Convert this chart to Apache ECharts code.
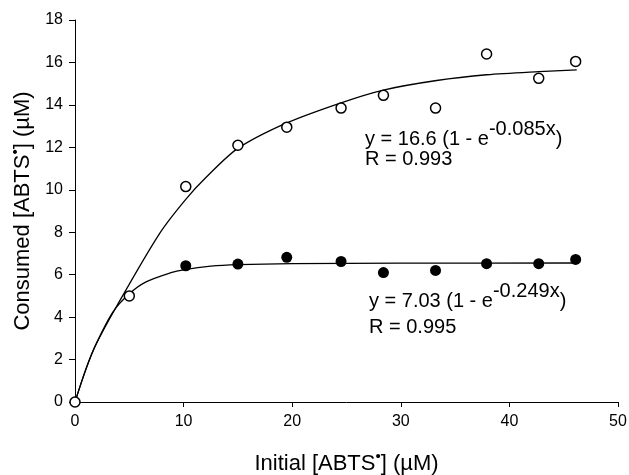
<!DOCTYPE html>
<html lang="en">
<head>
    <meta charset="utf-8"/>
    <title>ABTS consumed</title>
    <script src="https://cdn.jsdelivr.net/npm/echarts@6/dist/echarts.min.js"></script>
</head>
<body style="margin:0;background:#fff;">
<div id="chart" style="width:629px;height:475px;"></div>
<script type="text/javascript">
    var xOpen = [0, 5, 10.2, 15, 19.5, 24.5, 28.4, 33.2, 37.9, 42.7, 46.1];
    var yOpen = [0, 5.0, 10.15, 12.1, 12.95, 13.85, 14.45, 13.85, 16.4, 15.25, 16.05];
    var xFilled = [10.2, 15, 19.5, 24.5, 28.4, 33.2, 37.9, 42.7, 46.1];
    var yFilled = [6.42, 6.5, 6.82, 6.62, 6.1, 6.2, 6.52, 6.52, 6.72];

    // fitted curves
    var fitOpenX = [0, 1.7, 4.1, 7.8, 10.2, 12.1, 15, 19.5, 24.5, 28.4, 33.3, 37.9, 42.7, 46.2];
    var fitOpenY = [0, 2.45, 4.75, 7.95, 9.55, 10.6, 11.95, 13.15, 14.1, 14.7, 15.15, 15.42, 15.57, 15.65];
    var fitFilledX = [0, 1, 2, 3.5, 5, 6.5, 8.75, 10.1, 12.5, 15, 20, 30, 46.2];
    var fitFilledY = [0, 1.55, 2.8, 4.25, 5.1, 5.65, 6.08, 6.24, 6.4, 6.47, 6.52, 6.54, 6.55];

    var font = '"Liberation Sans", Arial, sans-serif';

    function pairs(xs, ys) {
        return xs.map(function (x, i) { return [x, ys[i]]; });
    }

    var chart = echarts.init(document.getElementById('chart'));

    var nameRich = {
        a: {fontSize: 22, fontFamily: font, color: '#000'},
        s: {fontSize: 15, fontFamily: font, color: '#000', padding: [0, 0, 14, 0]}
    };
    var eqRich = {
        m: {fontSize: 20, fontFamily: font, fill: '#000'},
        s: {fontSize: 20, fontFamily: font, fill: '#000', padding: [0, 0, 20, 0]}
    };

    chart.setOption({
        animation: false,
        backgroundColor: '#fff',
        grid: {left: 75, right: 11, top: 20, bottom: 73, outerBoundsMode: 'none'},
        xAxis: {
            type: 'value', min: 0, max: 50, interval: 10,
            name: '{a|Initial [ABTS}{s|•}{a|] (µM)}',
            nameLocation: 'middle', nameGap: 47,
            nameTextStyle: {rich: nameRich},
            axisLine: {lineStyle: {color: '#000', width: 1}},
            axisTick: {length: 5, lineStyle: {color: '#000'}},
            axisLabel: {color: '#000', fontSize: 16, fontFamily: font, margin: 12},
            splitLine: {show: false}
        },
        yAxis: {
            type: 'value', min: 0, max: 18, interval: 2,
            name: '{a|Consumed [ABTS}{s|•}{a|] (µM)}',
            nameLocation: 'middle', nameGap: 33,
            nameTextStyle: {rich: nameRich},
            axisLine: {lineStyle: {color: '#000', width: 1}},
            axisTick: {length: 6, lineStyle: {color: '#000'}},
            axisLabel: {color: '#000', fontSize: 16, fontFamily: font, margin: 12},
            splitLine: {show: false}
        },
        series: [
            {
                type: 'line', data: pairs(fitOpenX, fitOpenY), smooth: 0.3,
                showSymbol: false, lineStyle: {color: '#000', width: 1.3}, z: 1
            },
            {
                type: 'line', data: pairs(fitFilledX, fitFilledY), smooth: 0.3,
                showSymbol: false, lineStyle: {color: '#000', width: 1.3}, z: 1
            },
            {
                type: 'scatter', data: pairs(xOpen, yOpen), symbolSize: 10, clip: false,
                itemStyle: {color: '#fff', borderColor: '#000', borderWidth: 1.5, opacity: 1}, z: 3
            },
            {
                type: 'scatter', data: pairs(xFilled, yFilled), symbolSize: 11, clip: false,
                itemStyle: {color: '#000', opacity: 1}, z: 3
            }
        ],
        graphic: [
            {type: 'text', x: 365, y: 139, style: {text: '{m|y = 16.6 (1 - e}{s|-0.085x}{m|)}', rich: eqRich, verticalAlign: 'middle'}},
            {type: 'text', x: 365, y: 159, style: {text: 'R = 0.993', font: '20px ' + font, fill: '#000', verticalAlign: 'middle'}},
            {type: 'text', x: 369, y: 301, style: {text: '{m|y = 7.03 (1 - e}{s|-0.249x}{m|)}', rich: eqRich, verticalAlign: 'middle'}},
            {type: 'text', x: 369, y: 327, style: {text: 'R = 0.995', font: '20px ' + font, fill: '#000', verticalAlign: 'middle'}}
        ]
    });
</script>
</body>
</html>
